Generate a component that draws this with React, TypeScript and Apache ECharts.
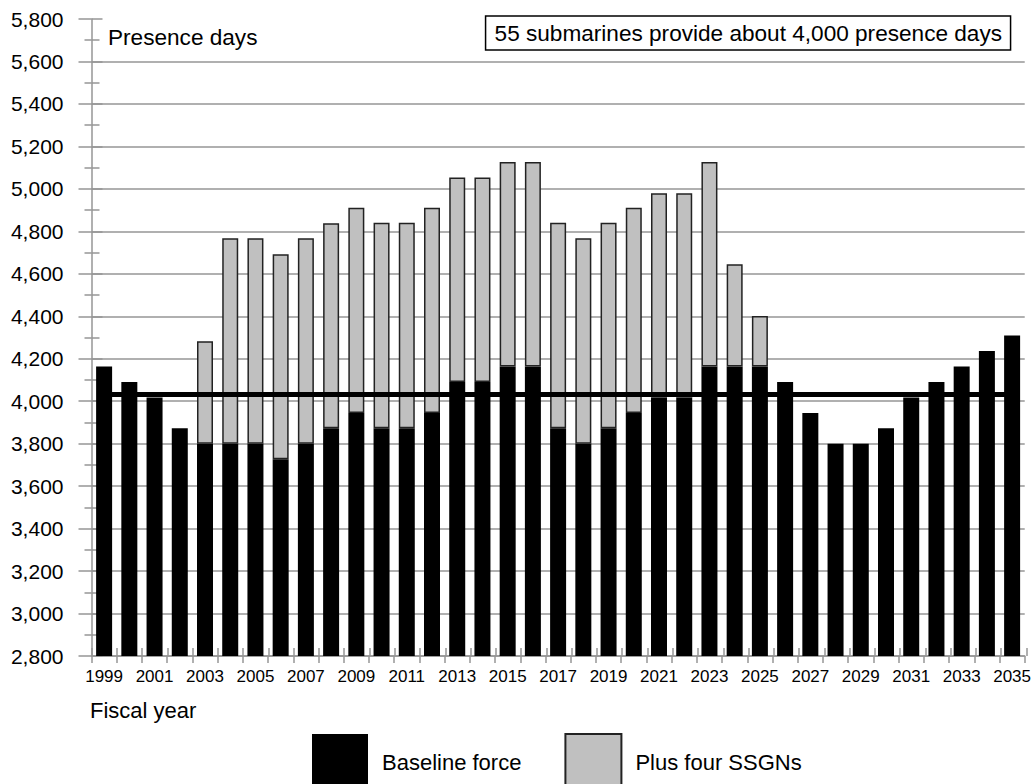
import React, { useEffect, useRef } from "react";
import * as echarts from "echarts";

const years = [
  "1999", "2000", "2001", "2002", "2003", "2004", "2005", "2006", "2007", "2008",
  "2009", "2010", "2011", "2012", "2013", "2014", "2015", "2016", "2017", "2018",
  "2019", "2020", "2021", "2022", "2023", "2024", "2025", "2026", "2027", "2028",
  "2029", "2030", "2031", "2032", "2033", "2034", "2035",
];

const baselineForce = [
  4164, 4091, 4018, 3873, 3800, 3800, 3800, 3727, 3800, 3873,
  3945, 3873, 3873, 3945, 4091, 4091, 4164, 4164, 3873, 3800,
  3873, 3945, 4018, 4018, 4164, 4164, 4164, 4091, 3945, 3800,
  3800, 3873, 4018, 4091, 4164, 4236, 4309,
];

const plusFourSSGNs: (number | null)[] = [
  null, null, null, null, 482, 967, 967, 965, 967, 965,
  966, 967, 967, 966, 963, 963, 963, 963, 967, 967,
  967, 966, 961, 961, 963, 481, 237, null, null, null,
  null, null, null, null, null, null, null,
];

const referenceLevel = 4032;
const yMin = 2800;
const yMax = 5800;
const yInterval = 200;

const seriesNames = ["Baseline force", "Plus four SSGNs"];
const annotationText = "55 submarines provide about 4,000 presence days";
const yAxisTitle = "Presence days";
const xAxisTitle = "Fiscal year";

const FONT = "'Liberation Sans', Arial, Helvetica, sans-serif";
const AXIS_GRAY = "#969696";

export default function App() {
  const ref = useRef<HTMLDivElement>(null);

  useEffect(() => {
    if (!ref.current) return;
    const chart = echarts.init(ref.current, null, { renderer: "svg" });

    const gridRect = { left: 91.5, right: 7.5, top: 19, bottom: 128 };

    const option: any = {
      animation: false,
      backgroundColor: "#ffffff",
      textStyle: { fontFamily: FONT },
      title: {
        text: annotationText,
        right: 23,
        top: 16,
        borderColor: "#000",
        borderWidth: 1.5,
        padding: [6, 9, 5, 9],
        textStyle: {
          fontFamily: FONT,
          fontSize: 22.6,
          fontWeight: "normal",
          color: "#000",
        },
      },
      legend: {
        data: seriesNames,
        left: 307,
        top: 728,
        itemWidth: 56,
        itemHeight: 56,
        itemGap: 43,
        icon: "rect",
        selectedMode: false,
        textStyle: {
          fontFamily: FONT,
          fontSize: 22,
          color: "#000",
          padding: [0, 0, 0, 9],
        },
      },
      graphic: [
        {
          type: "text",
          left: 108,
          top: 26,
          silent: true,
          style: { text: yAxisTitle, font: `22.6px ${FONT}`, fill: "#000" },
        },
        {
          type: "text",
          left: 90,
          top: 699,
          silent: true,
          style: { text: xAxisTitle, font: `22px ${FONT}`, fill: "#000" },
        },
      ],
      grid: [
        { ...gridRect, containLabel: false },
        { ...gridRect, containLabel: false },
      ],
      xAxis: [
        {
          gridIndex: 0,
          type: "category",
          data: years,
          boundaryGap: true,
          axisLine: { show: true, lineStyle: { color: AXIS_GRAY, width: 1.5 } },
          axisTick: {
            show: true,
            interval: 0,
            length: 7,
            lineStyle: { color: AXIS_GRAY, width: 1.5 },
          },
          axisLabel: {
            interval: 1,
            fontSize: 17,
            color: "#000",
            margin: 12,
            fontFamily: FONT,
          },
          splitLine: { show: false },
        },
        {
          gridIndex: 1,
          type: "category",
          data: years,
          boundaryGap: true,
          axisLine: { show: false },
          axisTick: {
            show: true,
            inside: true,
            interval: 0,
            length: 8,
            lineStyle: { color: AXIS_GRAY, width: 1.5 },
          },
          axisLabel: { show: false },
          splitLine: { show: false },
        },
      ],
      yAxis: [
        {
          gridIndex: 0,
          type: "value",
          min: yMin,
          max: yMax,
          interval: yInterval,
          axisLine: { show: true, lineStyle: { color: AXIS_GRAY, width: 1.5 } },
          axisTick: { show: true, length: 13, lineStyle: { color: AXIS_GRAY, width: 1.5 } },
          minorTick: {
            show: true,
            splitNumber: 2,
            length: 7,
            lineStyle: { color: AXIS_GRAY, width: 1.5 },
          },
          splitLine: {
            show: true,
            showMaxLine: false,
            lineStyle: { color: AXIS_GRAY, width: 1.5 },
          },
          axisLabel: {
            fontSize: 21,
            color: "#000",
            margin: 28,
            fontFamily: FONT,
            formatter: (v: number) => v.toLocaleString("en-US"),
          },
        },
        {
          gridIndex: 1,
          type: "value",
          min: yMin,
          max: yMax,
          interval: yInterval,
          axisLine: { show: false },
          axisTick: {
            show: true,
            inside: true,
            length: 11,
            lineStyle: { color: AXIS_GRAY, width: 1.5 },
          },
          minorTick: {
            show: true,
            splitNumber: 2,
            length: 8,
            lineStyle: { color: AXIS_GRAY, width: 1.5 },
          },
          splitLine: { show: false },
          axisLabel: { show: false },
        },
      ],
      series: [
        {
          name: seriesNames[0],
          type: "bar",
          xAxisIndex: 0,
          yAxisIndex: 0,
          stack: "total",
          barWidth: 16,
          data: baselineForce,
          itemStyle: { color: "#000000" },
          markLine: {
            silent: true,
            symbol: ["none", "none"],
            label: { show: false },
            lineStyle: { color: "#000", width: 5, type: "solid" },
            data: [
              [
                { coord: [years[0], referenceLevel] },
                { coord: [years[years.length - 1], referenceLevel] },
              ],
            ],
          },
        },
        {
          name: seriesNames[1],
          type: "bar",
          xAxisIndex: 0,
          yAxisIndex: 0,
          stack: "total",
          barWidth: 16,
          data: plusFourSSGNs,
          itemStyle: { color: "#c0c0c0", borderColor: "#222", borderWidth: 1.5 },
        },
      ],
    };

    chart.setOption(option);
    return () => chart.dispose();
  }, []);

  return (
    <div
      ref={ref}
      style={{
        position: "fixed",
        left: 0,
        top: 0,
        width: 1034,
        height: 784,
        background: "#fff",
      }}
    />
  );
}
